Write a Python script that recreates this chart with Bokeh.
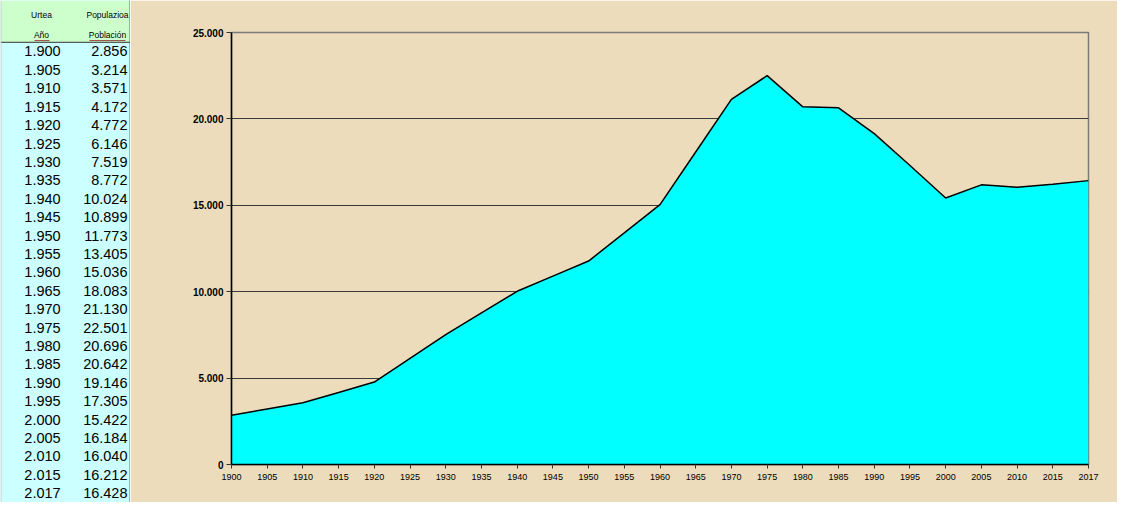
from bokeh.plotting import figure
from bokeh.layouts import row
from bokeh.models import Range1d, FixedTicker, ColumnDataSource
from bokeh.core.properties import value
from bokeh.embed import file_html
from bokeh.resources import INLINE

# ---- data ----
years = [1900, 1905, 1910, 1915, 1920, 1925, 1930, 1935, 1940, 1945, 1950, 1955,
         1960, 1965, 1970, 1975, 1980, 1985, 1990, 1995, 2000, 2005, 2010, 2015, 2017]
population = [2856, 3214, 3571, 4172, 4772, 6146, 7519, 8772, 10024, 10899, 11773, 13405,
              15036, 18083, 21130, 22501, 20696, 20642, 19146, 17305, 15422, 16184, 16040, 16212, 16428]
y_ticks = [0, 5000, 10000, 15000, 20000, 25000]
header_top = ["Urtea", "Populazioa"]
header_bottom = ["Año", "Población"]


def fmt(n):
    return f"{n:,}".replace(",", ".")


FONT = value("Liberation Sans")
H = 502
TABLE_W = 130
CHART_W = 987

# ---- table (left) ----
row_h = 18.37
head_units = 41.7 / row_h
n = len(years)
t = figure(width=TABLE_W, height=H, x_range=Range1d(0, TABLE_W),
           y_range=Range1d(n, -head_units), toolbar_location=None,
           output_backend="svg", min_border=0)
t.frame_align = False
t.axis.visible = False
t.grid.visible = False
t.outline_line_color = None
t.background_fill_color = "#ccffff"
t.border_fill_color = "#ccffff"
t.quad(left=0, right=TABLE_W, top=-head_units, bottom=0, fill_color="#ccffcc", line_color=None)
t.segment(x0=0, x1=TABLE_W, y0=0, y1=0, line_color="#333333", line_width=1)
t.segment(x0=[0.5], x1=[0.5], y0=[-head_units], y1=[n], line_color="#c8c8c8", line_width=1)
t.segment(x0=[TABLE_W - 0.5], x1=[TABLE_W - 0.5], y0=[-head_units], y1=[n],
          line_color="#4a7a7a", line_width=1)

src = ColumnDataSource(dict(
    y=[i + 0.5 for i in range(n)],
    yl=[fmt(v) for v in years],
    pl=[fmt(v) for v in population],
))
t.text(x=42, y="y", text="yl", source=src, text_align="center", text_baseline="middle",
       text_font=FONT, text_font_size="14.5px", text_color="#000000")
t.text(x=127, y="y", text="pl", source=src, text_align="right", text_baseline="middle",
       text_font=FONT, text_font_size="14.5px", text_color="#000000")

hy1 = -head_units + 14.5 / row_h
hy2 = -head_units + 34.5 / row_h
t.text(x=[41, 107], y=[hy1, hy1], text=header_top, text_align="center", text_baseline="middle",
       text_font=FONT, text_font_size="8.5px", text_color="#000000")
t.text(x=[41, 107], y=[hy2, hy2], text=header_bottom, text_align="center", text_baseline="middle",
       text_font=FONT, text_font_size="8.5px", text_color="#000000")
t.segment(x0=[34, 89], x1=[49, 125], y0=[hy2 + 0.3] * 2, y1=[hy2 + 0.3] * 2,
          line_color="#994444", line_width=1)

# ---- chart (right) ----
idx = list(range(n))
p = figure(width=CHART_W, height=H, x_range=Range1d(0, n - 1), y_range=Range1d(0, 25000),
           toolbar_location=None, output_backend="svg",
           min_border_left=101, min_border_right=29, min_border_top=32, min_border_bottom=38)
p.frame_align = False
parch = "#ecdcbb"
p.background_fill_color = parch
p.border_fill_color = parch
p.outline_line_color = "#7a7a7a"
p.outline_line_width = 1.5

p.varea(x=idx, y1=[0] * n, y2=population, fill_color="#00ffff")
p.line(x=idx, y=population, line_color="#000000", line_width=1.5)

p.xgrid.visible = False
p.ygrid.ticker = FixedTicker(ticks=y_ticks)
p.ygrid.grid_line_color = "#3a3a3a"
p.ygrid.grid_line_width = 1

p.yaxis.ticker = FixedTicker(ticks=y_ticks)
p.yaxis.major_label_overrides = {v: fmt(v) for v in y_ticks}
p.yaxis.major_label_text_font = "Liberation Sans"
p.yaxis.major_label_text_font_style = "bold"
p.yaxis.major_label_text_font_size = "10px"
p.yaxis.major_tick_out = 5
p.yaxis.major_tick_in = 0
p.yaxis.minor_tick_out = 0
p.yaxis.minor_tick_in = 0
p.yaxis.major_label_standoff = 3

p.xaxis.ticker = FixedTicker(ticks=idx)
p.xaxis.major_label_overrides = {i: str(y) for i, y in zip(idx, years)}
p.xaxis.major_label_text_font = "Liberation Sans"
p.xaxis.major_label_text_font_size = "9px"
p.xaxis.major_tick_out = 4
p.xaxis.major_tick_in = 0
p.xaxis.minor_tick_out = 0
p.xaxis.minor_tick_in = 0
p.xaxis.major_label_standoff = 5

for ax in (p.xaxis, p.yaxis):
    ax.axis_line_color = "#000000"
    ax.axis_line_width = 1.5
    ax.major_tick_line_color = "#333333"
    ax.major_label_text_color = "#000000"

layout = row(t, p, spacing=0)
open("out.html", "w").write(file_html(layout, INLINE))
